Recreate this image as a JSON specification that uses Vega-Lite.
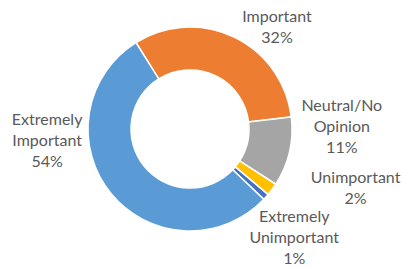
{
  "$schema": "https://vega.github.io/schema/vega-lite/v6.json",
  "width": 380,
  "height": 258,
  "autosize": {"type": "none"},
  "padding": {"left": 0, "top": 0, "right": 24, "bottom": 10},
  "background": "white",
  "view": {"stroke": null},
  "data": {
    "values": [
      {"category": "Important", "label": "Important\n32%", "percent": 32, "rank": 1},
      {"category": "Neutral/No Opinion", "label": "Neutral/No\nOpinion\n11%", "percent": 11, "rank": 2},
      {"category": "Unimportant", "label": "Unimportant\n2%", "percent": 2, "rank": 3},
      {"category": "Extremely Unimportant", "label": "Extremely\nUnimportant\n1%", "percent": 1, "rank": 4},
      {"category": "Extremely Important", "label": "Extremely\nImportant\n54%", "percent": 54, "rank": 5}
    ]
  },
  "encoding": {
    "theta": {"field": "percent", "type": "quantitative", "stack": true, "scale": {"range": [-0.5585, 5.7247]}},
    "order": {"field": "rank", "type": "quantitative"}
  },
  "layer": [
    {
      "mark": {"type": "arc", "innerRadius": 59, "outerRadius": 102, "stroke": "white", "strokeWidth": 1.5},
      "encoding": {
        "color": {
          "field": "category",
          "type": "nominal",
          "scale": {
            "domain": ["Important", "Neutral/No Opinion", "Unimportant", "Extremely Unimportant", "Extremely Important"],
            "range": ["#ED7D31", "#A5A5A5", "#FFC000", "#4472C4", "#5B9BD5"]
          },
          "legend": null
        }
      }
    },
    {
      "mark": {"type": "text", "radius": 125, "dx": 33, "dy": 1, "font": "Lato", "fontSize": 16, "lineHeight": 21, "fill": "#595959", "align": "center", "baseline": "middle", "lineBreak": "\n"},
      "encoding": {
        "text": {"field": "label", "type": "nominal"},
        "opacity": {"condition": {"test": "datum.category === 'Important'", "value": 1}, "value": 0}
      }
    },
    {
      "mark": {"type": "text", "radius": 125, "dx": 30, "dy": -51, "font": "Lato", "fontSize": 16, "lineHeight": 21, "fill": "#595959", "align": "center", "baseline": "middle", "lineBreak": "\n"},
      "encoding": {
        "text": {"field": "label", "type": "nominal"},
        "opacity": {"condition": {"test": "datum.category === 'Neutral/No Opinion'", "value": 1}, "value": 0}
      }
    },
    {
      "mark": {"type": "text", "radius": 125, "dx": 65, "dy": -25, "font": "Lato", "fontSize": 16, "lineHeight": 21, "fill": "#595959", "align": "center", "baseline": "middle", "lineBreak": "\n"},
      "encoding": {
        "text": {"field": "label", "type": "nominal"},
        "opacity": {"condition": {"test": "datum.category === 'Unimportant'", "value": 1}, "value": 0}
      }
    },
    {
      "mark": {"type": "text", "radius": 125, "dx": 11, "dy": 5, "font": "Lato", "fontSize": 16, "lineHeight": 21, "fill": "#595959", "align": "center", "baseline": "middle", "lineBreak": "\n"},
      "encoding": {
        "text": {"field": "label", "type": "nominal"},
        "opacity": {"condition": {"test": "datum.category === 'Extremely Unimportant'", "value": 1}, "value": 0}
      }
    },
    {
      "mark": {"type": "text", "radius": 125, "dx": -46, "dy": -88, "font": "Lato", "fontSize": 16, "lineHeight": 21, "fill": "#595959", "align": "center", "baseline": "middle", "lineBreak": "\n"},
      "encoding": {
        "text": {"field": "label", "type": "nominal"},
        "opacity": {"condition": {"test": "datum.category === 'Extremely Important'", "value": 1}, "value": 0}
      }
    }
  ]
}
